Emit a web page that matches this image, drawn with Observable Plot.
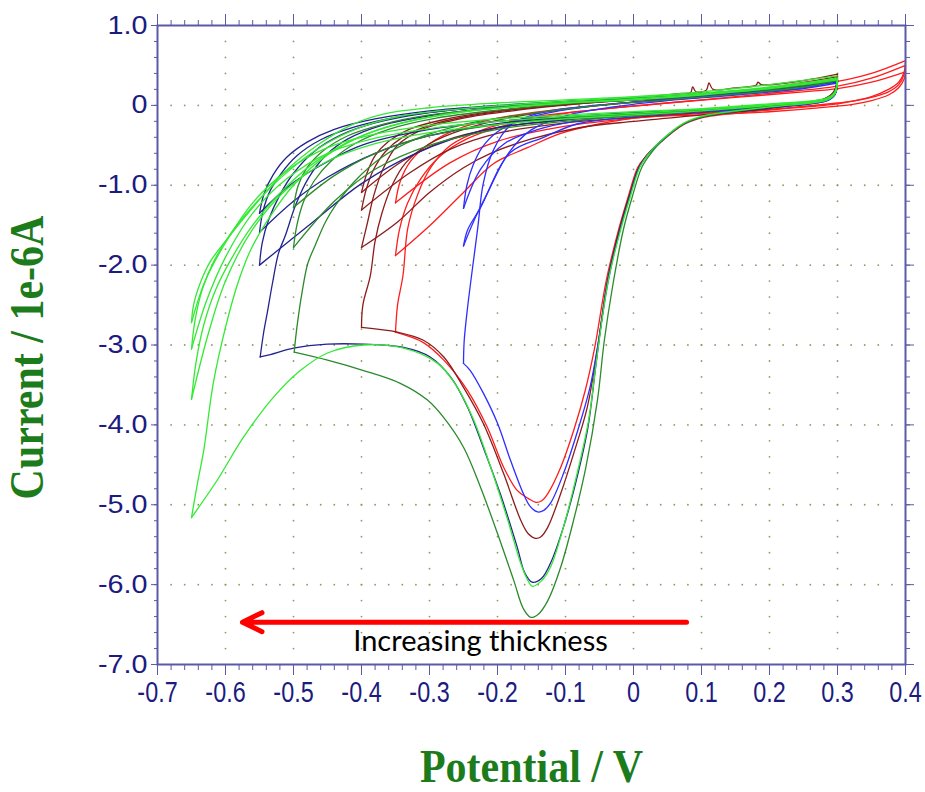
<!DOCTYPE html>
<html><head><meta charset="utf-8">
<script src="https://cdn.jsdelivr.net/npm/d3@7"></script>
<script src="https://cdn.jsdelivr.net/npm/@observablehq/plot@0.6"></script>
<style>body{margin:0;background:#fff}</style>
</head><body><div id="chart"></div>
<script>
// ---------- tick values ----------
const xMajor = [-0.7,-0.6,-0.5,-0.4,-0.3,-0.2,-0.1,0,0.1,0.2,0.3,0.4];
const yMajor = [1,0,-1,-2,-3,-4,-5,-6,-7];

// ---------- data: [potential V, current 1e-6 A] ----------
// red (switch -0.35 V)
const redN1 = [[0.4,0.55],[0.398,0.42],[0.39,0.29],[0.375,0.2],[0.35,0.11],[0.32,0.05],[0.3,0.02],[0.2,-0.06],[0.103,-0.15],[0.074,-0.24],[0.035,-0.5],[0.018,-0.64],[0.006,-0.78],[-0.008,-1.15],[-0.022,-1.56],[-0.04,-2.19],[-0.057,-3.03],[-0.071,-3.57],[-0.088,-4.07],[-0.107,-4.53],[-0.126,-4.86],[-0.135,-4.95],[-0.143,-4.97],[-0.155,-4.92],[-0.171,-4.82],[-0.191,-4.53],[-0.215,-4.03],[-0.244,-3.57],[-0.279,-3.19],[-0.309,-2.97],[-0.35,-2.84]];
const redR1 = [[-0.35,-2.84],[-0.347,-2.5],[-0.339,-2.13],[-0.332,-1.54],[-0.318,-1.13],[-0.299,-0.79],[-0.269,-0.5],[-0.22,-0.3],[-0.15,-0.15],[-0.05,-0.05],[0.05,0.03],[0.15,0.1],[0.25,0.17],[0.3,0.21],[0.35,0.29],[0.4,0.42]];
const redN2 = [[0.4,0.42],[0.398,0.33],[0.39,0.22],[0.375,0.13],[0.35,0.06],[0.32,0.01],[0.3,-0.01],[0.2,-0.08],[0.1,-0.12],[0.01,-0.15],[-0.049,-0.23],[-0.107,-0.35],[-0.156,-0.53],[-0.206,-0.73],[-0.25,-1.09],[-0.299,-1.5],[-0.35,-1.88]];
const redR2 = [[-0.35,-1.88],[-0.344,-1.55],[-0.332,-1.22],[-0.313,-0.92],[-0.285,-0.64],[-0.245,-0.42],[-0.185,-0.24],[-0.1,-0.1],[0,-0.01],[0.1,0.07],[0.2,0.15],[0.3,0.24],[0.35,0.34],[0.4,0.5]];
const redN3 = [[0.4,0.5],[0.398,0.39],[0.39,0.26],[0.375,0.17],[0.35,0.1],[0.32,0.05],[0.3,0.03],[0.2,-0.05],[0.1,-0.1],[0,-0.16],[-0.1,-0.26],[-0.2,-0.45],[-0.27,-0.72],[-0.35,-1.22]];
const redR3 = [[-0.35,-1.22],[-0.343,-0.95],[-0.328,-0.7],[-0.3,-0.48],[-0.26,-0.3],[-0.2,-0.16],[-0.12,-0.06],[-0.03,0.02],[0.1,0.1],[0.2,0.19],[0.3,0.3],[0.35,0.4],[0.4,0.56]];

// maroon (switch -0.40 V)
const maroonN1 = [[0.3,0.36],[0.296,0.16],[0.285,0.07],[0.2,-0.03],[0.103,-0.14],[0.074,-0.23],[0.036,-0.48],[0.019,-0.63],[0.007,-0.79],[-0.007,-1.15],[-0.021,-1.56],[-0.038,-2.19],[-0.054,-3.1],[-0.068,-3.78],[-0.088,-4.36],[-0.107,-4.86],[-0.126,-5.28],[-0.136,-5.4],[-0.144,-5.42],[-0.155,-5.36],[-0.166,-5.19],[-0.191,-4.61],[-0.221,-3.98],[-0.25,-3.53],[-0.279,-3.15],[-0.309,-2.94],[-0.347,-2.84],[-0.4,-2.78]];
const maroonR1 = [[-0.4,-2.78],[-0.398,-2.5],[-0.387,-2.13],[-0.38,-1.7],[-0.37,-1.35],[-0.355,-1.0],[-0.335,-0.72],[-0.3,-0.48],[-0.25,-0.3],[-0.18,-0.15],[-0.1,-0.05],[0,0.04],[0.1,0.12],[0.2,0.22],[0.3,0.36]];
const maroonN2 = [[0.3,0.36],[0.295,0.18],[0.28,0.08],[0.2,-0.04],[0.1,-0.12],[0,-0.2],[-0.08,-0.28],[-0.15,-0.42],[-0.21,-0.6],[-0.25,-0.78],[-0.3,-1.09],[-0.347,-1.46],[-0.4,-1.78]];
const maroonR2 = [[-0.4,-1.78],[-0.391,-1.46],[-0.382,-1.13],[-0.368,-0.79],[-0.347,-0.5],[-0.31,-0.3],[-0.25,-0.16],[-0.17,-0.06],[-0.08,0.02],[0,0.09],[0.07,0.15],[0.084,0.16],[0.087,0.23],[0.092,0.17],[0.107,0.19],[0.111,0.28],[0.117,0.2],[0.15,0.22],[0.18,0.25],[0.183,0.29],[0.188,0.26],[0.25,0.31],[0.3,0.39]];
const maroonN3 = [[0.3,0.39],[0.295,0.16],[0.28,0.07],[0.2,-0.02],[0.1,-0.09],[0,-0.15],[-0.1,-0.22],[-0.2,-0.35],[-0.27,-0.55],[-0.33,-0.85],[-0.4,-1.31]];
const maroonR3 = [[-0.4,-1.31],[-0.393,-1.05],[-0.382,-0.8],[-0.365,-0.58],[-0.34,-0.4],[-0.3,-0.25],[-0.24,-0.13],[-0.15,-0.03],[-0.05,0.04],[0.05,0.09],[0.15,0.16],[0.25,0.25],[0.3,0.34]];
const maroonN4 = [[0.3,0.34],[0.295,0.16],[0.28,0.07],[0.2,-0.01],[0.1,-0.07],[0,-0.12],[-0.1,-0.18],[-0.2,-0.28],[-0.28,-0.45],[-0.34,-0.7],[-0.4,-1.09]];
const maroonR4 = [[-0.4,-1.09],[-0.392,-0.85],[-0.38,-0.63],[-0.36,-0.45],[-0.33,-0.3],[-0.28,-0.18],[-0.2,-0.07],[-0.1,0.01],[0,0.07],[0.1,0.13],[0.2,0.21],[0.3,0.33]];

// blue (switch -0.25 V)
const blueN1 = [[0.3,0.3],[0.296,0.14],[0.285,0.07],[0.2,-0.02],[0.103,-0.14],[0.074,-0.23],[0.036,-0.49],[0.02,-0.63],[0.008,-0.78],[-0.006,-1.15],[-0.02,-1.56],[-0.037,-2.19],[-0.053,-3.03],[-0.064,-3.53],[-0.082,-4.07],[-0.103,-4.61],[-0.122,-4.98],[-0.132,-5.07],[-0.141,-5.09],[-0.152,-5.02],[-0.162,-4.86],[-0.181,-4.44],[-0.2,-3.98],[-0.221,-3.6],[-0.24,-3.32],[-0.25,-3.23]];
const blueR1 = [[-0.25,-3.23],[-0.249,-2.95],[-0.244,-2.53],[-0.229,-1.53],[-0.221,-0.98],[-0.206,-0.56],[-0.181,-0.25],[-0.14,-0.1],[-0.08,-0.02],[0,0.04],[0.1,0.11],[0.2,0.19],[0.3,0.29]];
const blueN2 = [[0.3,0.29],[0.296,0.13],[0.285,0.06],[0.2,-0.03],[0.1,-0.08],[-0.009,-0.15],[-0.082,-0.23],[-0.132,-0.4],[-0.181,-0.59],[-0.225,-1.28],[-0.244,-1.56],[-0.25,-1.76]];
const blueR2 = [[-0.25,-1.76],[-0.235,-1.45],[-0.215,-1.1],[-0.184,-0.6],[-0.151,-0.31],[-0.1,-0.13],[-0.03,-0.02],[0.05,0.06],[0.15,0.13],[0.25,0.21],[0.3,0.28]];
const blueN3 = [[0.3,0.28],[0.296,0.13],[0.285,0.06],[0.2,-0.02],[0.1,-0.07],[0,-0.12],[-0.08,-0.19],[-0.14,-0.3],[-0.19,-0.48],[-0.225,-0.8],[-0.25,-1.29]];
const blueR3 = [[-0.25,-1.29],[-0.245,-1.0],[-0.236,-0.75],[-0.222,-0.52],[-0.2,-0.33],[-0.165,-0.18],[-0.11,-0.07],[-0.04,0.01],[0.05,0.07],[0.15,0.14],[0.25,0.22],[0.3,0.3]];

// navy (switch -0.55 V)
const navyN1 = [[0.3,0.3],[0.296,0.14],[0.285,0.07],[0.2,-0.03],[0.103,-0.14],[0.074,-0.23],[0.037,-0.47],[0.02,-0.63],[0.008,-0.78],[-0.006,-1.15],[-0.02,-1.56],[-0.038,-2.19],[-0.055,-3.23],[-0.067,-4.03],[-0.084,-4.69],[-0.103,-5.28],[-0.122,-5.73],[-0.135,-5.92],[-0.149,-5.97],[-0.16,-5.85],[-0.171,-5.53],[-0.196,-4.86],[-0.221,-4.28],[-0.244,-3.78],[-0.269,-3.4],[-0.299,-3.15],[-0.338,-3.03],[-0.397,-2.99],[-0.45,-2.99],[-0.5,-3.04],[-0.534,-3.12],[-0.549,-3.15]];
const navyR1 = [[-0.549,-3.15],[-0.544,-2.85],[-0.538,-2.57],[-0.531,-2.23],[-0.522,-1.85],[-0.512,-1.63],[-0.497,-1.25],[-0.478,-0.91],[-0.453,-0.63],[-0.42,-0.42],[-0.37,-0.25],[-0.3,-0.13],[-0.2,-0.03],[-0.1,0.03],[0,0.07],[0.1,0.13],[0.2,0.2],[0.3,0.3]];
const navyN2 = [[0.3,0.3],[0.296,0.14],[0.285,0.07],[0.2,-0.01],[0.1,-0.07],[0,-0.12],[-0.1,-0.18],[-0.22,-0.31],[-0.32,-0.6],[-0.4,-0.98],[-0.47,-1.45],[-0.55,-2.0]];
const navyR2 = [[-0.55,-2.0],[-0.546,-1.72],[-0.536,-1.42],[-0.52,-1.12],[-0.5,-0.85],[-0.47,-0.58],[-0.43,-0.37],[-0.38,-0.22],[-0.3,-0.09],[-0.2,-0.01],[-0.1,0.04],[0,0.08],[0.1,0.14],[0.2,0.21],[0.3,0.31]];
const navyN3 = [[0.3,0.31],[0.296,0.15],[0.285,0.07],[0.2,0.0],[0.1,-0.06],[0,-0.1],[-0.1,-0.15],[-0.2,-0.23],[-0.3,-0.38],[-0.38,-0.6],[-0.45,-0.9],[-0.5,-1.2],[-0.55,-1.59]];
const navyR3 = [[-0.55,-1.59],[-0.545,-1.33],[-0.535,-1.08],[-0.518,-0.85],[-0.495,-0.63],[-0.46,-0.43],[-0.41,-0.27],[-0.35,-0.15],[-0.27,-0.06],[-0.18,0.0],[-0.1,0.04],[0,0.08],[0.1,0.14],[0.2,0.21],[0.3,0.31]];
const navyN4 = [[0.3,0.31],[0.296,0.15],[0.285,0.08],[0.2,0.0],[0.1,-0.05],[0,-0.09],[-0.1,-0.14],[-0.2,-0.2],[-0.3,-0.3],[-0.4,-0.5],[-0.47,-0.8],[-0.51,-1.03],[-0.55,-1.35]];
const navyR4 = [[-0.55,-1.35],[-0.543,-1.1],[-0.53,-0.87],[-0.51,-0.65],[-0.48,-0.46],[-0.44,-0.3],[-0.38,-0.17],[-0.3,-0.07],[-0.2,0.0],[-0.1,0.05],[0,0.09],[0.1,0.15],[0.2,0.22],[0.3,0.32]];

// dark green (switch -0.50 V)
const dgreenN1 = [[0.3,0.31],[0.296,0.15],[0.285,0.07],[0.2,-0.02],[0.103,-0.14],[0.076,-0.22],[0.04,-0.46],[0.024,-0.62],[0.012,-0.78],[-0.002,-1.15],[-0.015,-1.56],[-0.031,-2.28],[-0.043,-2.95],[-0.053,-3.69],[-0.07,-4.53],[-0.088,-5.19],[-0.107,-5.78],[-0.126,-6.2],[-0.14,-6.37],[-0.151,-6.41],[-0.162,-6.3],[-0.176,-5.95],[-0.2,-5.36],[-0.225,-4.78],[-0.25,-4.28],[-0.279,-3.91],[-0.303,-3.69],[-0.343,-3.48],[-0.397,-3.32],[-0.45,-3.19],[-0.499,-3.09]];
const dgreenR1 = [[-0.499,-3.09],[-0.495,-2.78],[-0.487,-2.32],[-0.479,-1.98],[-0.468,-1.75],[-0.453,-1.46],[-0.438,-1.25],[-0.41,-0.95],[-0.37,-0.65],[-0.32,-0.42],[-0.25,-0.24],[-0.15,-0.1],[-0.05,0.0],[0.05,0.07],[0.15,0.14],[0.25,0.23],[0.3,0.31]];
const dgreenN2 = [[0.3,0.31],[0.295,0.15],[0.28,0.07],[0.2,-0.01],[0.1,-0.07],[0,-0.13],[-0.1,-0.2],[-0.2,-0.3],[-0.3,-0.5],[-0.38,-0.8],[-0.44,-1.2],[-0.5,-1.78]];
const dgreenR2 = [[-0.5,-1.78],[-0.495,-1.5],[-0.485,-1.2],[-0.47,-0.95],[-0.445,-0.7],[-0.41,-0.48],[-0.36,-0.3],[-0.29,-0.16],[-0.2,-0.06],[-0.1,0.02],[0,0.07],[0.1,0.13],[0.2,0.2],[0.3,0.31]];
const dgreenN3 = [[0.3,0.31],[0.295,0.16],[0.28,0.08],[0.2,0.0],[0.1,-0.06],[0,-0.11],[-0.1,-0.16],[-0.2,-0.24],[-0.3,-0.38],[-0.38,-0.6],[-0.44,-0.88],[-0.5,-1.28]];
const dgreenR3 = [[-0.5,-1.28],[-0.493,-1.0],[-0.48,-0.78],[-0.455,-0.56],[-0.42,-0.38],[-0.37,-0.24],[-0.3,-0.12],[-0.2,-0.03],[-0.1,0.04],[0,0.08],[0.1,0.14],[0.2,0.21],[0.3,0.32]];

// lime (switch -0.65 V)
const limeN1 = [[0.3,0.3],[0.296,0.14],[0.285,0.07],[0.2,-0.02],[0.103,-0.13],[0.074,-0.22],[0.038,-0.46],[0.021,-0.62],[0.009,-0.78],[-0.005,-1.15],[-0.019,-1.56],[-0.037,-2.19],[-0.053,-3.1],[-0.066,-3.94],[-0.083,-4.61],[-0.103,-5.28],[-0.122,-5.78],[-0.135,-5.95],[-0.149,-6.02],[-0.157,-5.92],[-0.166,-5.73],[-0.185,-5.19],[-0.21,-4.53],[-0.235,-3.94],[-0.259,-3.53],[-0.288,-3.23],[-0.338,-3.04],[-0.397,-3.0],[-0.45,-3.1],[-0.49,-3.32],[-0.529,-3.65],[-0.574,-4.16],[-0.612,-4.69],[-0.65,-5.16]];
const limeR1 = [[-0.65,-5.16],[-0.641,-4.72],[-0.632,-4.32],[-0.618,-3.48],[-0.6,-2.78],[-0.582,-2.23],[-0.563,-1.81],[-0.535,-1.4],[-0.5,-1.0],[-0.45,-0.62],[-0.39,-0.35],[-0.32,-0.18],[-0.22,-0.05],[-0.1,0.03],[0,0.07],[0.1,0.13],[0.2,0.21],[0.3,0.32]];
const limeN2 = [[0.3,0.32],[0.296,0.15],[0.285,0.08],[0.2,0.0],[0.1,-0.07],[0,-0.12],[-0.1,-0.17],[-0.2,-0.24],[-0.3,-0.34],[-0.38,-0.48],[-0.45,-0.7],[-0.51,-1.05],[-0.56,-1.55],[-0.6,-2.2],[-0.625,-2.85],[-0.65,-3.68]];
const limeR2 = [[-0.65,-3.68],[-0.643,-3.2],[-0.632,-2.75],[-0.614,-2.3],[-0.59,-1.9],[-0.56,-1.5],[-0.52,-1.1],[-0.47,-0.72],[-0.41,-0.42],[-0.34,-0.22],[-0.25,-0.08],[-0.1,0.03],[0,0.08],[0.1,0.14],[0.2,0.22],[0.3,0.33]];
const limeN3 = [[0.3,0.33],[0.296,0.16],[0.285,0.08],[0.2,0.01],[0.1,-0.05],[0,-0.1],[-0.1,-0.14],[-0.2,-0.2],[-0.3,-0.29],[-0.38,-0.41],[-0.45,-0.6],[-0.51,-0.92],[-0.56,-1.35],[-0.6,-1.9],[-0.628,-2.45],[-0.65,-3.05]];
const limeR3 = [[-0.65,-3.05],[-0.645,-2.7],[-0.634,-2.3],[-0.617,-1.95],[-0.592,-1.6],[-0.553,-1.2],[-0.507,-0.82],[-0.456,-0.5],[-0.4,-0.27],[-0.34,-0.13],[-0.25,-0.04],[-0.1,0.05],[0,0.1],[0.1,0.15],[0.2,0.23],[0.3,0.34]];
const limeN4 = [[0.3,0.34],[0.296,0.16],[0.285,0.09],[0.2,0.02],[0.1,-0.04],[0,-0.08],[-0.1,-0.12],[-0.2,-0.17],[-0.3,-0.25],[-0.38,-0.36],[-0.45,-0.53],[-0.51,-0.82],[-0.56,-1.22],[-0.6,-1.72],[-0.63,-2.2],[-0.65,-2.72]];
const limeR4 = [[-0.65,-2.72],[-0.647,-2.5],[-0.636,-2.2],[-0.622,-1.95],[-0.6,-1.7],[-0.563,-1.31],[-0.515,-0.85],[-0.465,-0.5],[-0.416,-0.25],[-0.368,-0.11],[-0.3,-0.03],[-0.2,0.03],[-0.1,0.07],[0,0.11],[0.1,0.17],[0.2,0.26],[0.3,0.37]];

// annotation
const arrowLine = [{x1: 0.078, y1: -6.47, x2: -0.575, y2: -6.47}];
const noteText = [{E: -0.225, I: -6.72, label: "Increasing thickness"}];

// ---------- styles ----------
const C = {red:"#ff1c1c", maroon:"#8c1c1c", blue:"#2e2eff", navy:"#23238f", dgreen:"#2b8a2b", lime:"#33ea33"};
const AXIS = "#5a5aa8", LABEL = "#1b1b80", TITLE = "#1c7c1c", GRID = "#8c9c5c";

const traces = [
  [C.red, redN1],[C.red, redR1],[C.red, redN2],[C.red, redR2],[C.red, redN3],[C.red, redR3],
  [C.maroon, maroonN1],[C.maroon, maroonR1],[C.maroon, maroonN2],[C.maroon, maroonR2],[C.maroon, maroonN3],[C.maroon, maroonR3],[C.maroon, maroonN4],[C.maroon, maroonR4],
  [C.blue, blueN1],[C.blue, blueR1],[C.blue, blueN2],[C.blue, blueR2],[C.blue, blueN3],[C.blue, blueR3],
  [C.navy, navyN1],[C.navy, navyR1],[C.navy, navyN2],[C.navy, navyR2],[C.navy, navyN3],[C.navy, navyR3],[C.navy, navyN4],[C.navy, navyR4],
  [C.dgreen, dgreenN1],[C.dgreen, dgreenR1],[C.dgreen, dgreenN2],[C.dgreen, dgreenR2],[C.dgreen, dgreenN3],[C.dgreen, dgreenR3],
  [C.lime, limeN1],[C.lime, limeR1],[C.lime, limeN2],[C.lime, limeR2],[C.lime, limeN3],[C.lime, limeR3],[C.lime, limeN4],[C.lime, limeR4]
];
const rows = traces.flatMap(([color, pts], k) => pts.map(([E, I]) => ({k, E, I, color})));

// dotted gridlines
const xMinor = d3.range(-70, 41, 2).map(d => d / 100);
const yMinor = d3.range(10, -71, -2).map(d => d / 10);
const gridDots = [];
for (const I of [0,-1,-2,-3,-4,-5,-6]) for (const E of xMinor) if (E > -0.7 && E < 0.4) gridDots.push({E, I});
for (const E of xMajor) if (E > -0.7 && E < 0.4) for (const I of yMinor) if (I < 1 && I > -7) gridDots.push({E, I});

const fmtY = d => d === 0 ? "0" : d.toFixed(1);
const fmtX = d => Math.abs(d) < 1e-9 ? "0" : d.toFixed(1);
const blank = () => "";
const SERIF = "Liberation Serif, Times New Roman, serif";

const chart = Plot.plot({
  width: 925, height: 792,
  marginLeft: 157, marginRight: 20, marginTop: 25, marginBottom: 128,
  style: {background: "#fff", fontFamily: "Liberation Sans, Arial, sans-serif", overflow: "visible"},
  x: {domain: [-0.7, 0.4]},
  y: {domain: [-7, 1]},
  color: {type: "identity"},
  marks: [
    Plot.dot(gridDots, {x: "E", y: "I", r: 0.9, fill: GRID, stroke: null}),
    Plot.line(rows, {x: "E", y: "I", z: "k", stroke: "color", strokeWidth: 1.3, curve: "catmull-rom"}),
    Plot.arrow(arrowLine, {x1: "x1", y1: "y1", x2: "x2", y2: "y2", stroke: "#ff0000", strokeWidth: 5, headLength: 6.5, headAngle: 52, strokeLinecap: "round", strokeLinejoin: "round"}),
    Plot.text(noteText, {x: "E", y: "I", text: "label", fontSize: 29, fontFamily: "Lato, Open Sans, sans-serif", fill: "#000", textAnchor: "middle", lineAnchor: "middle"}),
    Plot.frame({stroke: AXIS, strokeWidth: 2}),
    Plot.axisY(yMajor, {anchor: "left", tickSize: 6, tickPadding: 4, tickFormat: fmtY, stroke: AXIS, fill: LABEL, fontSize: 25, fontFamily: "Liberation Sans, Arial, sans-serif", label: null}),
    Plot.axisY(yMinor, {anchor: "left", tickSize: 3, tickFormat: blank, stroke: AXIS, label: null}),
    Plot.axisY(yMajor, {anchor: "right", tickSize: 8, tickFormat: blank, stroke: AXIS, label: null}),
    Plot.axisY(yMinor, {anchor: "right", tickSize: 4, tickFormat: blank, stroke: AXIS, label: null}),
    Plot.axisX(xMajor, {anchor: "bottom", tickSize: 11, tickPadding: 5, tickFormat: fmtX, stroke: AXIS, fill: LABEL, fontSize: 30, fontFamily: "Liberation Sans, Arial, sans-serif", label: null}),
    Plot.axisX(xMinor, {anchor: "bottom", tickSize: 6, tickFormat: blank, stroke: AXIS, label: null}),
    Plot.axisX(xMajor, {anchor: "top", tickSize: 12, tickFormat: blank, stroke: AXIS, label: null}),
    Plot.axisX(xMinor, {anchor: "top", tickSize: 6, tickFormat: blank, stroke: AXIS, label: null}),
    Plot.text(["Current / 1e-6A"], {frameAnchor: "left", rotate: -90, textAnchor: "middle", fontSize: 42, fontWeight: "bold", fontFamily: SERIF, fill: TITLE, lineAnchor: "middle"}),
    Plot.text(["Potential / V"], {frameAnchor: "bottom", textAnchor: "middle", fontSize: 42, fontWeight: "bold", fontFamily: SERIF, fill: TITLE, lineAnchor: "middle"})
  ]
});
document.getElementById("chart").appendChild(chart);

// ---- typographic adjustments (narrow x tick labels, wide y tick labels, tall axis titles)
const svg = d3.select(chart.tagName.toLowerCase() === "svg" ? chart : chart.querySelector("svg"));
function squeeze(sel, sx) {
  sel.each(function () {
    const tr = this.getAttribute("transform") || "";
    const x = this.getAttribute("x");
    if (x != null) this.setAttribute("x", +x / sx);
    this.setAttribute("transform", tr + ` scale(${sx},1)`);
  });
}
squeeze(svg.selectAll('g[aria-label="x-axis tick label"] text'), 0.78);
squeeze(svg.selectAll('g[aria-label="y-axis tick label"] text'), 1.15);
function place(str, tr) {
  svg.selectAll("text").filter(function () { return this.textContent === str; })
    .attr("x", null).attr("y", null).attr("text-anchor", "middle").attr("transform", tr);
}
place("Current / 1e-6A", "translate(42,357) rotate(-90) scale(1,1.15)");
place("Potential / V", "translate(531,781) scale(1,1.12)");
</script>
</body></html>
